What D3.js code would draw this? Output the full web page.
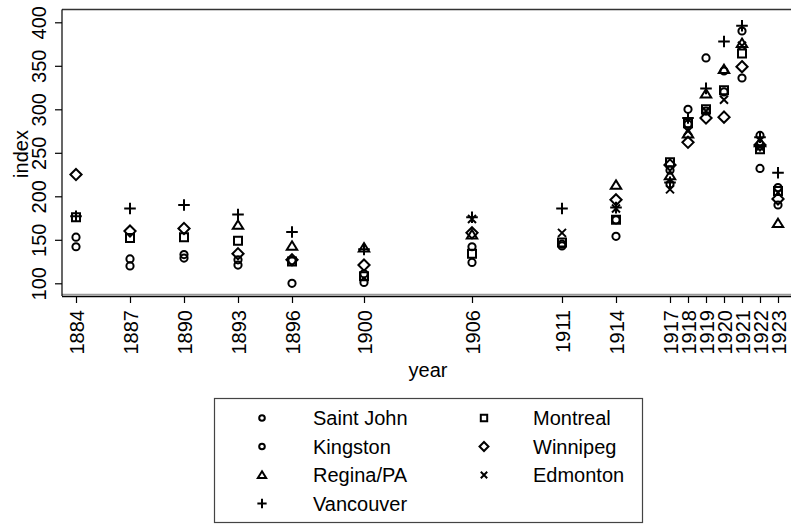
<!DOCTYPE html>
<html>
<head>
<meta charset="utf-8">
<script src="https://cdn.jsdelivr.net/npm/d3@7"></script>
<style>
  html, body { margin: 0; padding: 0; background: #fff; }
  svg { display: block; font-family: "Liberation Sans", Arial, sans-serif; }
</style>
</head>
<body>
<svg width="791" height="525"></svg>
<script>
// survey years on the x axis
const years = [1884, 1887, 1890, 1893, 1896, 1900, 1906, 1911, 1914, 1917, 1918, 1919, 1920, 1921, 1922, 1923];
const yTicks = [100, 150, 200, 250, 300, 350, 400];

// index values per city (null = no observation)
const saintJohn = [153, 128, 133, 127, 100, 101, 124, 143, 154, 214, 300, 359, 344, 336, 232, 190];
const kingston = [142, 120, 129, 121, 126, 111, 142, 145, 173, 230, 283, 298, 320, 390, 270, 210];
const regina = [null, null, null, 167, 143, 141, 156, null, 213, 224, 272, 318, 346, 376, 262, 169];
const vancouver = [177, 186, 190, 179, 159, 139, 176, 186, 187, 216, 290, 324, 378, 396, 268, 227];
const montreal = [176, 152, 153, 149, 125, 108, 134, 147, 173, 239, 284, 300, 322, 364, 254, 206];
const winnipeg = [225, 160, 163, 134, 127, 121, 158, null, 196, 236, 262, 290, 291, 349, 259, 197];
const edmonton = [null, null, null, null, null, null, 174, 158, 186, 208, 275, 298, 311, 373, 257, 204];

const series = [
  { name: 'Saint John', shape: 'circle', values: saintJohn },
  { name: 'Kingston', shape: 'circle', values: kingston },
  { name: 'Regina/PA', shape: 'triangle', values: regina },
  { name: 'Vancouver', shape: 'plus', values: vancouver },
  { name: 'Montreal', shape: 'square', values: montreal },
  { name: 'Winnipeg', shape: 'diamond', values: winnipeg },
  { name: 'Edmonton', shape: 'cross', values: edmonton },
];

// plot frame (right side runs off the page)
const plotLeft = 62, plotRight = 794, plotTop = 9.5, plotBottom = 296;

const x = d3.scaleLinear().domain([1884, 1923]).range([76, 778]);
const y = d3.scaleLinear().domain([100, 400]).range([283.3, 22.3]);

// outlined marker paths, s = half size
function shapePath(shape, s) {
  switch (shape) {
    case 'circle': {
      const p = d3.path();
      p.arc(0, 0, s, 0, 2 * Math.PI);
      return p.toString();
    }
    case 'square':
      return `M${-s},${-s}H${s}V${s}H${-s}Z`;
    case 'diamond':
      return `M0,${-s * 1.4}L${s * 1.4},0L0,${s * 1.4}L${-s * 1.4},0Z`;
    case 'triangle':
      return `M0,${-s * 1.15}L${s * 1.3},${s * 0.95}L${-s * 1.3},${s * 0.95}Z`;
    case 'plus':
      return `M${-s * 1.45},0H${s * 1.45}M0,${-s * 1.45}V${s * 1.45}`;
    case 'cross':
      return `M${-s},${-s}L${s},${s}M${-s},${s}L${s},${-s}`;
  }
}

const svg = d3.select('svg');

// frame
svg.append('line')
  .attr('x1', plotLeft).attr('x2', plotRight)
  .attr('y1', plotTop).attr('y2', plotTop)
  .attr('stroke', '#333').attr('stroke-width', 1.5);
svg.append('line')
  .attr('x1', plotLeft).attr('x2', plotRight)
  .attr('y1', plotBottom - 1.5).attr('y2', plotBottom - 1.5)
  .attr('stroke', '#999').attr('stroke-width', 1.5);
svg.append('line')
  .attr('x1', plotLeft).attr('x2', plotLeft)
  .attr('y1', plotTop).attr('y2', plotBottom)
  .attr('stroke', '#000').attr('stroke-width', 1.2);

// y axis
const yAxis = svg.append('g')
  .attr('transform', `translate(${plotLeft},0)`)
  .call(d3.axisLeft(y).tickValues(yTicks).tickSize(7).tickSizeOuter(0));
yAxis.select('.domain').remove();
yAxis.selectAll('.tick line').attr('stroke', '#000').attr('stroke-width', 1.2);
yAxis.selectAll('.tick text')
  .attr('x', null).attr('dy', null)
  .attr('transform', 'translate(-16,0) rotate(-90)')
  .attr('text-anchor', 'middle')
  .attr('fill', '#000')
  .style('font-size', '20px')
  .style('font-family', '"Liberation Sans", Arial, sans-serif');

// x axis
const xAxis = svg.append('g')
  .attr('transform', `translate(0,${plotBottom})`)
  .call(d3.axisBottom(x).tickValues(years).tickFormat(d3.format('d')).tickSize(7).tickSizeOuter(0));
xAxis.select('.domain')
  .attr('d', `M${plotLeft},0.5H${plotRight}`)
  .attr('stroke', '#000').attr('stroke-width', 1.5);
xAxis.selectAll('.tick line').attr('stroke', '#000').attr('stroke-width', 1.2);
xAxis.selectAll('.tick text')
  .attr('y', null).attr('dy', null)
  .attr('transform', 'translate(7,14) rotate(-90)')
  .attr('text-anchor', 'end')
  .attr('fill', '#000')
  .style('font-size', '20px')
  .style('font-family', '"Liberation Sans", Arial, sans-serif');

// axis titles
svg.append('text')
  .attr('transform', 'translate(28,154) rotate(-90)')
  .attr('text-anchor', 'middle')
  .style('font-size', '20px')
  .text('index');
svg.append('text')
  .attr('x', 428).attr('y', 377)
  .attr('text-anchor', 'middle')
  .style('font-size', '20px')
  .text('year');

// points
const marks = svg.append('g');
series.forEach((s) => {
  const pts = years.map((yr, i) => ({ year: yr, v: s.values[i] })).filter((d) => d.v != null);
  marks.selectAll(null)
    .data(pts)
    .enter()
    .append('path')
    .attr('transform', (d) => `translate(${x(d.year)},${y(d.v)})`)
    .attr('d', shapePath(s.shape, s.shape === 'circle' ? 3.6 : 4))
    .attr('fill', 'none')
    .attr('stroke', '#000')
    .attr('stroke-width', 2);
});

// legend
const lg = svg.append('g');
lg.append('rect')
  .attr('x', 214.5).attr('y', 398.5)
  .attr('width', 428).attr('height', 124)
  .attr('fill', 'none').attr('stroke', '#444').attr('stroke-width', 1.2);

const legendCols = [{ sym: 262, txt: 313 }, { sym: 484, txt: 533 }];
series.forEach((s, i) => {
  const col = i < 4 ? 0 : 1;
  const row = i < 4 ? i : i - 4;
  const by = 425 + row * 28.5;
  lg.append('path')
    .attr('transform', `translate(${legendCols[col].sym},${by - 7})`)
    .attr('d', shapePath(s.shape, s.shape === 'circle' ? 2.8 : 3.2))
    .attr('fill', 'none')
    .attr('stroke', '#000')
    .attr('stroke-width', 2);
  lg.append('text')
    .attr('x', legendCols[col].txt).attr('y', by)
    .style('font-size', '20px')
    .text(s.name);
});
</script>
</body>
</html>
